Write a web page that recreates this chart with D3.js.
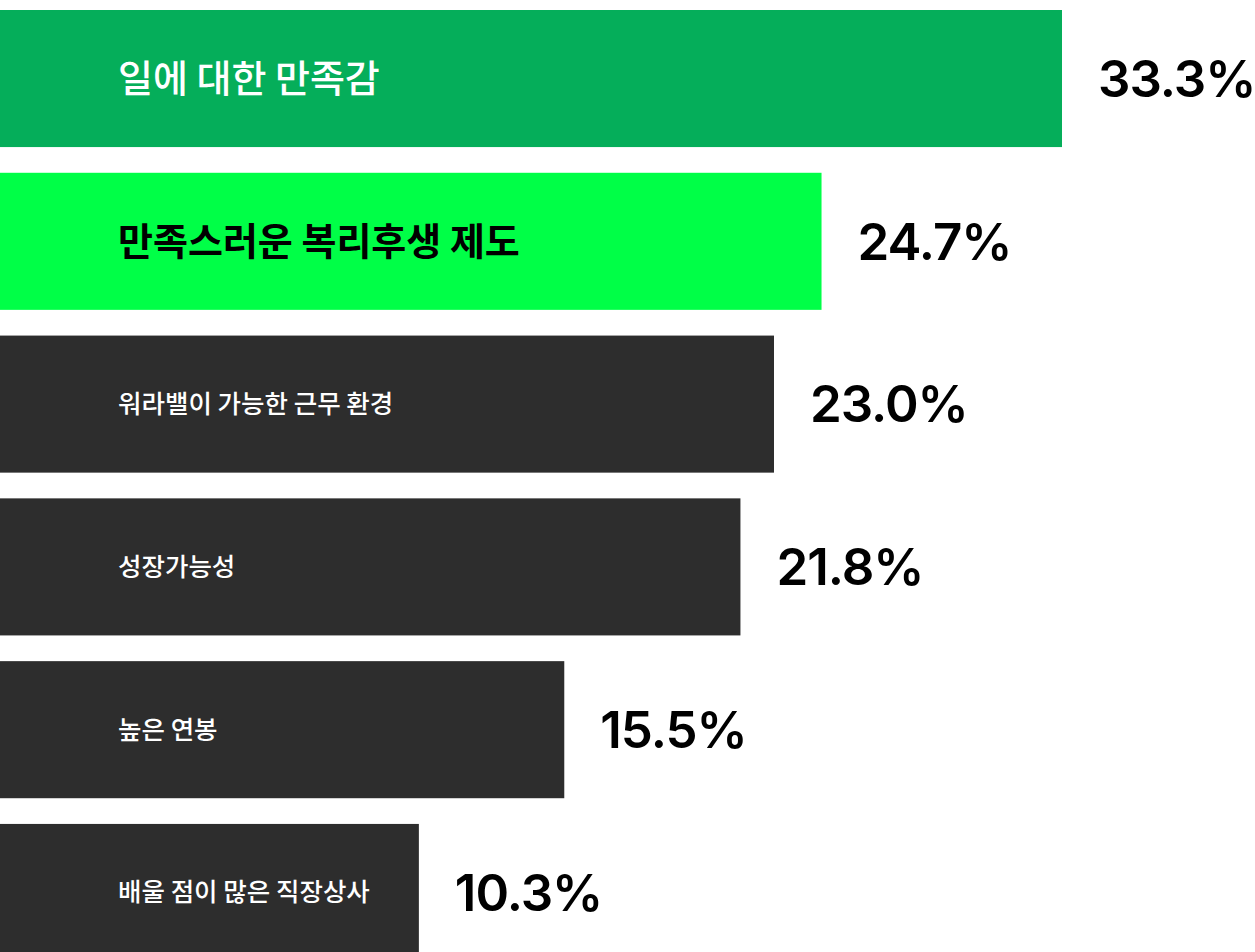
<!DOCTYPE html>
<html><head><meta charset="utf-8">
<script src="https://cdn.jsdelivr.net/npm/d3@7"></script>
<style>html,body{margin:0;padding:0;background:#fff;overflow:hidden}</style>
</head><body>
<svg id="chart" width="1255" height="952"></svg>
<script>
const categories = ["일에 대한 만족감","만족스러운 복리후생 제도","워라밸이 가능한 근무 환경","성장가능성","높은 연봉","배울 점이 많은 직장상사"];
const values = [33.3, 24.7, 23.0, 21.8, 15.5, 10.3];
const valueLabels = ["33.3%","24.7%","23.0%","21.8%","15.5%","10.3%"];
const barColors = ["#05ae5a","#00ff47","#2d2d2d","#2d2d2d","#2d2d2d","#2d2d2d"];
const labelColors = ["#ffffff","#000000","#ffffff","#ffffff","#ffffff","#ffffff"];
const labelSizes = [38, 38, 25.5, 25.5, 25.5, 25.5];
const labelWeights = [500, 700, 500, 500, 500, 500];

const svg = d3.select("#chart");
const x = d3.scaleLinear().domain([-4.68, 33.3]).range([0, 1062]);
const y = d3.scaleBand().domain(d3.range(categories.length)).range([10, 961]).paddingInner(0.158).paddingOuter(0);

const data = categories.map((c,i)=>({c, v:values[i], l:valueLabels[i], i}));
const g = svg.selectAll("g.bar").data(data).join("g").attr("class","bar");
g.append("rect").attr("x", x(x.domain()[0])).attr("y", d=>y(d.i))
  .attr("width", d=>x(d.v)-x(x.domain()[0])).attr("height", y.bandwidth())
  .attr("fill", d=>barColors[d.i]);
g.append("text").attr("x", 118).attr("y", d=>y(d.i)+y.bandwidth()/2)
  .attr("dy","0.35em").attr("fill", d=>labelColors[d.i])
  .style("font-family","'Noto Sans CJK KR','Noto Sans',sans-serif")
  .style("font-size", d=>labelSizes[d.i]+"px").style("font-weight", d=>labelWeights[d.i])
  .text(d=>d.c);
g.append("text").attr("x", d=>x(d.v)+36).attr("y", d=>y(d.i)+y.bandwidth()/2)
  .attr("dy","0.36em").attr("fill","#000")
  .style("font-family","Inter,'Noto Sans',sans-serif")
  .style("font-size","51px").style("font-weight",600).style("letter-spacing","-1px")
  .text(d=>d.l);
</script>
</body></html>
